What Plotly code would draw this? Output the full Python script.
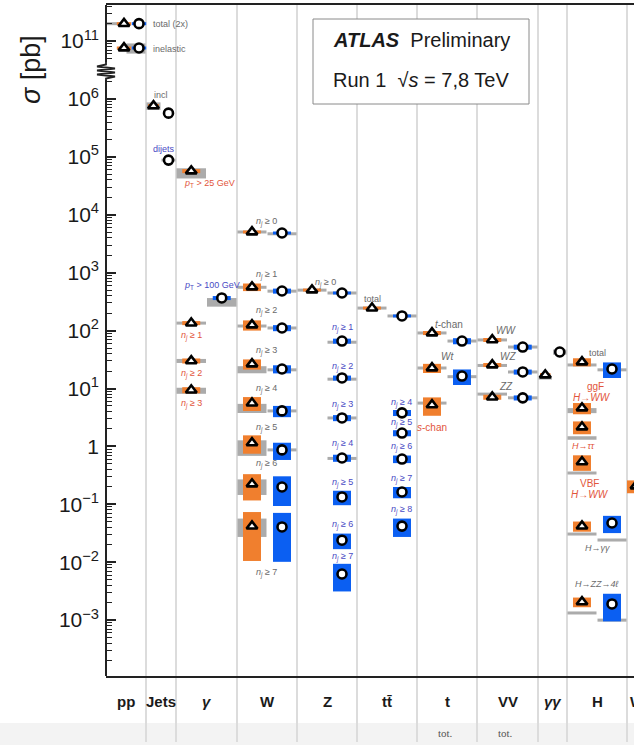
import math
import plotly.graph_objects as go

# ---------------- categories / columns ----------------
CATEGORIES = ["pp", "Jets", "<i>γ</i>", "W", "Z", "tt\u0304", "t", "VV", "<i>γγ</i>", "H", "W"]
COL_WIDTHS = [40, 30, 61, 60, 60, 60, 60, 61, 29, 60, 60]
SUBLABELS = ["", "", "", "", "", "", "tot.", "tot.", "", "", ""]

# ---------------- measurements ----------------
MEAS_COL = [0, 0, 0, 0,
            1, 1, 1,
            2, 2, 2, 2, 2,
            3, 3, 3, 3, 3, 3, 3, 3, 3, 3, 3, 3, 3, 3, 3, 3,
            4, 4, 4, 4, 4, 4, 4, 4, 4,
            5, 5, 5, 5, 5, 5, 5,
            6, 6, 6, 6, 6,
            7, 7, 7, 7, 7, 7,
            8, 8,
            9, 9, 9, 9, 9, 9, 9, 9, 9,
            10]
MEAS_ENERGY = [7, 8, 7, 8,
               7, 8, 8,
               7, 8, 7, 7, 7,
               7, 8, 7, 8, 7, 8, 7, 8, 7, 8, 7, 8, 7, 8, 7, 8,
               7, 8, 8, 8, 8, 8, 8, 8, 8,
               7, 8, 8, 8, 8, 8, 8,
               7, 8, 7, 8, 7,
               7, 8, 7, 8, 7, 8,
               7, 8,
               7, 8, 7, 7, 7, 7, 8, 7, 8,
               7]
MEAS_VALUE = [2.0e11, 2.0e11, 7.6e10, 7.6e10,
              7.6e5, 5.7e5, 8.8e4,
              5.7e4, 366, 135, 30, 9.4,
              5050, 4850, 566, 483, 125, 111, 26.5, 21.7, 5.6, 4.1, 1.15, 0.87, 0.224, 0.199, 0.042, 0.0406,
              502, 446, 66, 15.2, 3.1, 0.63, 0.134, 0.024, 0.00625,
              245, 179, 3.8, 1.7, 0.605, 0.163, 0.042,
              91, 66, 22.6, 16.4, 5.2,
              69, 52, 25.5, 19.3, 7.1, 6.9,
              17.1, 42.7,
              28.7, 21.7, 4.6, 2.16, 0.54, 0.042, 0.0475, 0.00206, 0.0019,
              0.207]
MEAS_ERR = [0.02, 0.02, 0.02, 0.02,
            0.08, 0.04, 0.04,
            0.08, 0.08, 0.08, 0.10, 0.12,
            0.04, 0.04, 0.15, 0.10, 0.20, 0.12, 0.20, 0.16, 0.27, 0.22, 0.35, 0.33, 0.48, 0.53, 0.75, 0.75,
            0.04, 0.04, 0.10, 0.10, 0.12, 0.14, 0.28, 0.30, 0.50,
            0.05, 0.05, 0.12, 0.12, 0.15, 0.22, 0.35,
            0.08, 0.12, 0.18, 0.30, 0.35,
            0.08, 0.10, 0.08, 0.10, 0.10, 0.10,
            0.08, 0.06,
            0.16, 0.30, 0.22, 0.25, 0.30, 0.20, 0.33, 0.19, 0.50,
            0.25]
THEORY_VALUE = [2.0e11, None, None, 7.6e10,
                7.6e5, None, 8.8e4,
                5.3e4, 312, 135, 30, 9.2,
                5050, 4700, 560, 480, 120, 111, 21.3, 21.0, 4.6, 4.1, 0.98, 0.87, 0.207, None, 0.042, None,
                500, 446, 63, 14.5, 3.1, 0.62, None, None, None,
                245, 179, None, None, None, None, None,
                91, 66, 22.6, 16.0, 5.6,
                69, 52, 25, 19.3, 8.0, 6.9,
                15.2, 42.7,
                25.5, 21.0, 4.17, 1.40, 0.347, 0.0307, 0.0242, 0.00133, 0.0010,
                None]
THEORY_ERR = [0.02, None, None, 0.20,
              0.15, None, 0.05,
              0.20, 0.17, 0.06, 0.08, 0.12,
              0.03, 0.03, 0.03, 0.03, 0.04, 0.03, 0.14, 0.03, 0.18, 0.03, 0.30, 0.03, 0.30, None, 0.35, None,
              0.03, 0.03, 0.03, 0.03, 0.03, 0.03, None, None, None,
              0.05, 0.05, None, None, None, None, None,
              0.04, 0.04, 0.04, 0.04, 0.03,
              0.03, 0.03, 0.03, 0.03, 0.03, 0.03,
              0.06, 0.10,
              0.05, 0.05, 0.10, 0.07, 0.05, 0.06, 0.06, 0.06, 0.06,
              None]

Y_TICK_EXP = [-3, -2, -1, 0, 1, 2, 3, 4, 5, 6, 11]

# ---------------- geometry / style ----------------
W_PAGE, H_PAGE = 634, 745
ML, MR, MT, MB = 106, 0, 5, 69
PW, PH = W_PAGE - ML - MR, H_PAGE - MT - MB
BREAK_SHIFT = 4              # 10^10..10^12 drawn just above 10^6
T_TOP = 6 + (99 - MT) / 57.9
T_BOT = 6 - (H_PAGE - MB - 99) / 57.9
PX_PER_T = PH / (T_TOP - T_BOT)

COL_FRAC = [(0.45, 0.825), (0.25, 0.75), (0.25, 0.75), (0.25, 0.75), (0.25, 0.75),
            (0.25, 0.75), (0.25, 0.75), (0.25, 0.75), (0.25, 0.75), (0.25, 0.75), (0.15, 0.65)]

ORANGE = "#f07f2e"
BLUE = "#0b5ff2"
GRAYBOX = "#ababab"
VLINE = "#dcdcdc"
AX = "#222222"
FONT = "Liberation Sans"

edges = [0]
for w in COL_WIDTHS:
    edges.append(edges[-1] + w)


def tpos(v):
    lv = math.log10(v)
    return lv - BREAK_SHIFT if lv > 9 else lv


def px2paper(x, y):
    return (x - ML) / PW, (H_PAGE - MB - y) / PH


def marker_x(i):
    c = MEAS_COL[i]
    f = COL_FRAC[c][0 if MEAS_ENERGY[i] == 7 else 1]
    return edges[c] + f * COL_WIDTHS[c]


fig = go.Figure()
shapes = []

# bottom light band
x0p, _ = px2paper(0, 0)
_, ya = px2paper(0, 723)
_, yb = px2paper(0, 748)
shapes.append(dict(type="rect", xref="paper", yref="paper", x0=x0p, x1=1.0, y0=yb, y1=ya,
                   fillcolor="#f3f3f3", line=dict(width=0), layer="below"))

# column separator lines
_, yl = px2paper(0, 742)
for e in edges[1:-1]:
    shapes.append(dict(type="line", xref="paper", yref="paper", x0=e / PW, x1=e / PW, y0=yl, y1=1,
                       line=dict(color=VLINE, width=2), layer="below"))

# ATLAS box
bx0, by0 = px2paper(313, 104)
bx1, by1 = px2paper(529, 19)
shapes.append(dict(type="rect", xref="paper", yref="paper", x0=bx0, x1=bx1, y0=by0, y1=by1,
                   fillcolor="white", line=dict(color="#8a8a8a", width=1), layer="below"))

MIN_T_GRAY = 3.0 / PX_PER_T
MIN_T_COL = 3.0 / PX_PER_T

# theory (gray) boxes
for i in range(len(MEAS_VALUE)):
    tv = THEORY_VALUE[i]
    if tv is None:
        continue
    c = MEAS_COL[i]
    half = COL_WIDTHS[c] / 2
    xa = edges[c] + (0 if MEAS_ENERGY[i] == 7 else half)
    lo = tpos(tv * (1 - THEORY_ERR[i]))
    hi = tpos(tv * (1 + THEORY_ERR[i]))
    mid = tpos(tv)
    if hi - lo < MIN_T_GRAY:
        lo, hi = mid - MIN_T_GRAY / 2, mid + MIN_T_GRAY / 2
    shapes.append(dict(type="rect", xref="x", yref="y", x0=xa + 0.5, x1=xa + half - 0.5, y0=lo, y1=hi,
                       fillcolor=GRAYBOX, line=dict(width=0), layer="below"))

# data (coloured) boxes
for i in range(len(MEAS_VALUE)):
    c = MEAS_COL[i]
    bw = min(18, 0.36 * COL_WIDTHS[c])
    xm = marker_x(i)
    v = MEAS_VALUE[i]
    lo = tpos(v * (1 - MEAS_ERR[i]))
    hi = tpos(v * (1 + MEAS_ERR[i]))
    mid = tpos(v)
    if hi - lo < MIN_T_COL:
        lo, hi = mid - MIN_T_COL / 2, mid + MIN_T_COL / 2
    col = ORANGE if MEAS_ENERGY[i] == 7 else BLUE
    shapes.append(dict(type="rect", xref="x", yref="y", x0=xm - bw / 2, x1=xm + bw / 2, y0=lo, y1=hi,
                       fillcolor=col, line=dict(width=0), layer="below"))

# left axis line with break
_, yz0 = px2paper(0, 80)
_, yz1 = px2paper(0, 62)
shapes.append(dict(type="line", xref="paper", yref="paper", x0=0, x1=0, y0=0, y1=yz0,
                   line=dict(color=AX, width=2), layer="above"))
shapes.append(dict(type="line", xref="paper", yref="paper", x0=0, x1=0, y0=yz1, y1=1,
                   line=dict(color=AX, width=2), layer="above"))
zig = [(106, 62), (106, 64.5), (97, 66.5), (115, 68.5), (97, 70.5), (115, 72.5), (97, 74.5), (115, 76.5),
       (106, 78.5), (106, 80)]
path = ""
for k, (zx, zy) in enumerate(zig):
    px_, py_ = px2paper(zx, zy)
    path += ("M" if k == 0 else "L") + f"{px_:.5f},{py_:.5f}"
shapes.append(dict(type="path", xref="paper", yref="paper", path=path,
                   line=dict(color=AX, width=1.8), layer="above"))

# markers
for e, sym in ((7, "triangle-up"), (8, "circle")):
    idx = [i for i in range(len(MEAS_VALUE)) if MEAS_ENERGY[i] == e]
    fig.add_trace(go.Scatter(
        x=[marker_x(i) for i in idx], y=[tpos(MEAS_VALUE[i]) for i in idx],
        mode="markers", showlegend=False, hoverinfo="skip",
        marker=dict(symbol=sym, size=9 if sym == "circle" else 9.5, color="white",
                    line=dict(color="black", width=2.6))))

# ---------------- annotations ----------------
ann = []
GRAYT = "#6a6a6a"
BLUET = "#4a4ac4"
REDT = "#e2553c"


def nj(k):
    return f"<i>n<sub>j</sub></i> ≥ {k}"


def lab(text, x, y, color, size=9, anchor="center", family=FONT, angle=0):
    xp, yp = px2paper(x, y)
    ann.append(dict(text=text, x=xp, y=yp, xref="paper", yref="paper", showarrow=False,
                    xanchor=anchor, yanchor="middle", textangle=angle,
                    font=dict(family=family, size=size, color=color)))


lab("total (2x)", 151, 24, GRAYT, 9, "left")
lab("inelastic", 151, 49, GRAYT, 9, "left")
lab("incl", 161, 95, GRAYT, 9)
lab("dijets", 164, 149, BLUET, 9)
lab("<i>p</i><sub>T</sub> > 25 GeV", 209, 183, REDT, 9)
lab("<i>p</i><sub>T</sub> > 100 GeV", 212, 285, BLUET, 9)
for k, y in zip([1, 2, 3], [336, 374, 404]):
    lab(nj(k), 191, y, REDT, 9)
for k, y in zip(range(8), [222, 275, 311, 351, 389, 428, 464, 573]):
    lab(nj(k), 266, y, GRAYT, 9)
lab(nj(0), 325, 283, GRAYT, 9)
for k, y in zip(range(1, 8), [328, 367, 405, 444, 483, 525, 557]):
    lab(nj(k), 342, y, BLUET, 9)
lab("total", 372, 299, GRAYT, 9)
for k, y in zip(range(4, 9), [403, 423, 447, 479, 510]):
    lab(nj(k), 401, y, BLUET, 9)
lab("<i>t</i>-chan", 449, 324, GRAYT, 10)
lab("<i>Wt</i>", 447, 356, GRAYT, 10)
lab("<i>s</i>-chan", 432, 427, REDT, 10)
lab("<i>WW</i>", 506, 330, GRAYT, 10)
lab("<i>WZ</i>", 508, 356, GRAYT, 10)
lab("<i>ZZ</i>", 506, 387, GRAYT, 10)
lab("total", 597, 353, GRAYT, 9)
lab("ggF", 595, 386, REDT, 10)
lab("<i>H→WW</i>", 592, 397, REDT, 10)
lab("<i>H→ττ</i>", 583, 446, REDT, 9)
lab("VBF", 589, 483, REDT, 10)
lab("<i>H→WW</i>", 590, 494, REDT, 10)
lab("<i>H→γγ</i>", 597, 548, GRAYT, 9)
lab("<i>H→ZZ→4ℓ</i>", 597, 584, GRAYT, 9)

# category labels
for c, name in enumerate(CATEGORIES):
    cx = ML + edges[c] + COL_WIDTHS[c] / 2
    anchor = "center"
    if c == len(CATEGORIES) - 1:
        cx = ML + edges[c] + 1
        anchor = "left"
    lab(f"<b>{name}</b>", cx, 701, "#1a1a1a", 15, anchor)
    if SUBLABELS[c]:
        lab(SUBLABELS[c], cx - 2, 733, "#555555", 11, "center", "Liberation Serif")

# ATLAS text
lab("<b><i>ATLAS</i></b>  Preliminary", 421, 40, "#1a1a1a", 20)
lab("Run 1  √<i>s</i> = 7,8 TeV", 421, 80, "#1a1a1a", 20)

# y title
lab("<i>σ</i> [pb]", 31, 70, "#1a1a1a", 27, "center", FONT, -90)

# ---------------- ticks ----------------
tickvals = [tpos(10.0 ** e) for e in Y_TICK_EXP]
ticktext = []
for e in Y_TICK_EXP:
    if e == 0:
        ticktext.append("1")
    else:
        ticktext.append("10<sup>" + (str(e) if e > 0 else "−" + str(-e)) + "</sup>")
minor = []
for n in range(-4, 7):
    for k in range(2, 10):
        t = n + math.log10(k)
        if T_BOT < t < 6.32:
            minor.append(t)
for v in [5e10, 6e10, 7e10, 8e10, 9e10, 2e11, 3e11, 4e11]:
    t = tpos(v)
    if t < T_TOP:
        minor.append(t)

fig.update_layout(
    width=W_PAGE, height=H_PAGE,
    margin=dict(l=ML, r=MR, t=MT, b=MB, pad=0),
    paper_bgcolor="white", plot_bgcolor="white",
    shapes=shapes, annotations=ann, showlegend=False,
    xaxis=dict(range=[0, PW], showgrid=False, zeroline=False, showticklabels=False, ticks="",
               showline=True, mirror=True, linecolor=AX, linewidth=2, fixedrange=True),
    yaxis=dict(range=[T_BOT, T_TOP], showgrid=False, zeroline=False, showline=False,
               tickmode="array", tickvals=tickvals, ticktext=ticktext,
               ticks="inside", ticklen=10, tickwidth=2, tickcolor=AX,
               tickfont=dict(family=FONT, size=21, color="#1a1a1a"), ticklabelstandoff=6,
               minor=dict(tickmode="array", tickvals=minor, ticks="inside", ticklen=6,
                          tickwidth=1.4, tickcolor=AX, showgrid=False),
               fixedrange=True),
)

fig.write_html("out.html", config={"displayModeBar": False},
               post_script="document.body.style.margin='0px';document.body.style.overflow='hidden';")
